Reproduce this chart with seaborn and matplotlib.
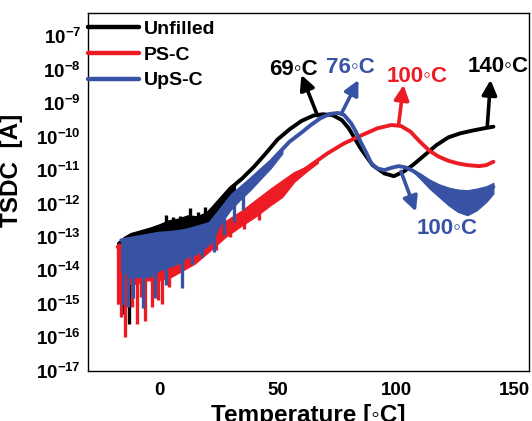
import numpy as np
import pandas as pd
import matplotlib
matplotlib.use("Agg")
import matplotlib.pyplot as plt
import matplotlib.ticker as mticker
import seaborn as sns

# ---------------- data (log10 of current in A) ----------------
black_T = [-17, -15, -10, -5, 0, 5, 10, 15, 20, 25, 30, 35, 40, 45, 50, 55, 60, 65, 69, 73, 77, 80,
           85, 90, 95, 99, 103, 107, 112, 117, 122, 127, 132, 137, 141]
black_log = [-13.2, -13.1, -12.95, -12.82, -12.72, -12.66, -12.62, -12.55, -12.35, -11.95, -11.55, -11.25,
             -10.9, -10.5, -10.08, -9.78, -9.53, -9.37, -9.33, -9.35, -9.5, -9.75, -10.35, -10.85, -11.1,
             -11.18, -11.05, -10.85, -10.55, -10.25, -10.02, -9.9, -9.82, -9.75, -9.7]
black_band_T = [-17, -15, -12, -8, -4, 0, 4, 8, 12, 16, 20, 24, 28, 32]
black_band_hi = [-13.2, -13.0, -12.88, -12.8, -12.72, -12.62, -12.5, -12.45, -12.35, -12.38, -12.25,
                 -12.0, -11.7, -11.45]
black_band_lo = [-14.5, -14.0, -13.8, -13.6, -13.4, -13.2, -13.1, -13.0, -12.9, -12.8, -12.6, -12.3,
                 -12.0, -11.7]
black_spike_T = [-15.8, -12.8, 3.0, 6.0, 9.0, 13.0, 16.5, 19.5]
black_spike_lo = [-15.3, -15.6, -12.9, -12.9, -12.8, -12.8, -12.7, -12.5]
black_spike_hi = [-13.4, -13.4, -12.35, -12.4, -12.38, -12.12, -12.25, -12.1]

red_T = [-17.5, -15, -10, -5, 0, 5, 10, 15, 20, 28, 35, 40.5, 47, 52, 57, 64, 71, 78, 85, 92, 98, 102,
         106, 110, 114, 118, 122, 126, 130, 135, 138, 141]
red_log = [-13.3, -13.25, -13.2, -13.15, -13.1, -13.05, -13.0, -12.9, -12.8, -12.65, -12.38, -12.15,
           -11.8, -11.55, -11.2, -10.85, -10.5, -10.2, -9.97, -9.75, -9.65, -9.68, -9.85, -10.15, -10.42,
           -10.6, -10.72, -10.8, -10.85, -10.88, -10.85, -10.75]
red_band_T = [-17.5, -15, -10, -5, 0, 5, 10, 15, 20, 28, 35, 40.5, 47, 52, 57, 62, 67]
red_band_hi = [-13.2, -13.2, -13.15, -13.1, -13.05, -13.0, -12.95, -12.85, -12.72, -12.52, -12.2, -11.9,
               -11.55, -11.3, -11.05, -10.9, -10.72]
red_band_lo = [-15.0, -14.4, -14.4, -14.3, -14.3, -14.2, -14.0, -13.8, -13.5, -13.0, -12.65, -12.4,
               -12.05, -11.8, -11.35, -11.05, -10.78]
red_spike_T = [-17.3, -16.2, -14.2, -11.5, -9.4, -7.5, -5.8, -3.2, -0.5, 1.2, 4.0, 6.0, 9.0,
               24.0, 30.0, 36.0, 42.0]
red_spike_lo = [-15.0, -15.4, -16.0, -15.1, -15.6, -14.8, -15.5, -15.1, -14.9, -15.0, -14.5, -14.0, -13.9,
                -13.4, -13.0, -12.75, -12.5]
red_spike_hi = [-13.3] * 13 + [-12.8, -12.5, -12.2, -12.0]

blue_T = [-16, -12, -8, -4, 0, 4, 8, 12, 16, 21.5, 26, 31, 38.4, 43, 47, 51, 55, 60, 64, 68, 72, 75.5,
          78, 81, 83, 85.3, 87.5, 89.5, 92, 95, 98, 101, 104, 107, 110, 114, 118, 122, 126, 130, 134,
          138, 141]
blue_log = [-13.1, -13.05, -13.0, -12.95, -12.9, -12.88, -12.85, -12.8, -12.72, -12.6, -12.2, -11.75,
            -11.3, -11.0, -10.75, -10.45, -10.15, -9.88, -9.65, -9.45, -9.32, -9.29, -9.35, -9.6, -9.85,
            -10.2, -10.5, -10.8, -10.95, -11.0, -10.93, -10.88, -10.92, -11.02, -11.15, -11.35, -11.5,
            -11.6, -11.7, -11.8, -11.75, -11.65, -11.5]
blue_band_T = [-16, -12, -8, -4, 0, 4, 8, 12, 16, 21.5, 26, 30, 34, 38.4, 43, 47, 52]
blue_band_hi = [-13.1, -13.05, -13.0, -12.95, -12.9, -12.88, -12.85, -12.8, -12.72, -12.58, -12.2, -11.8,
                -11.55, -11.3, -11.0, -10.72, -10.4]
blue_band_lo = [-14.0, -14.2, -14.2, -14.2, -14.0, -13.9, -13.8, -13.6, -13.5, -13.2, -12.6, -12.2,
                -11.9, -11.6, -11.25, -10.95, -10.5]
blue_tail_T = [107, 110, 114, 118, 122, 126, 130, 134, 138, 141]
blue_tail_hi = [-11.0, -11.1, -11.28, -11.42, -11.52, -11.58, -11.6, -11.55, -11.48, -11.38]
blue_tail_lo = [-11.05, -11.25, -11.55, -11.8, -12.05, -12.25, -12.35, -12.2, -11.95, -11.7]
blue_spike_T = [-15.3, -13.1, -11.0, -6.8, -1.8, 3.1, 9.7, 13.7, 18.0, 23.0, 27.5, 31.5, 35.5]
blue_spike_lo = [-15.03, -15.08, -14.83, -15.13, -14.82, -14.43, -14.53, -13.8, -13.6, -13.45, -12.95,
                 -12.55, -12.2]
blue_spike_hi = [-13.3] * 9 + [-12.6, -12.2, -11.9, -11.6]

series_names = ["Unfilled", "PS-C", "UpS-C"]
colors = ["#000000", "#ED1C24", "#3953A4"]

# annotations: text, colour index, text position, arrow tail, arrow head (T, log10 I)
ann_text = ["69\u25e6C", "76\u25e6C", "100\u25e6C", "140\u25e6C", "100\u25e6C"]
ann_color = [0, 2, 1, 0, 2]
ann_text_xy = [(56.7, -8.0), (80.6, -7.94), (109.0, -8.21), (143.0, -7.91), (121.5, -12.75)]
ann_tail = [(66.8, -9.37), (77.0, -9.29), (101.0, -9.64), (138.4, -9.7), (102.0, -11.04)]
ann_head = [(60.0, -8.15), (84.1, -8.3), (103.1, -8.45), (139.8, -8.3), (108.3, -12.24)]

yticks_exp = list(range(-17, -6))
xticks = [0, 50, 100, 150]

# ---------------- style ----------------
sns.set_style("white")
plt.rcParams["font.family"] = ["Liberation Sans", "DejaVu Sans"]
plt.rcParams["font.weight"] = "bold"
plt.rcParams["mathtext.fontset"] = "custom"
plt.rcParams["mathtext.rm"] = "Liberation Sans:bold"
plt.rcParams["mathtext.bf"] = "Liberation Sans:bold"
plt.rcParams["mathtext.it"] = "Liberation Sans:bold:italic"
plt.rcParams["axes.unicode_minus"] = False
for k in ["text.color", "axes.labelcolor", "xtick.color", "ytick.color", "axes.edgecolor"]:
    plt.rcParams[k] = "black"

fig = plt.figure(figsize=(5.32, 4.21), dpi=100)
ax = fig.add_axes([88 / 532, 1 - 370.7 / 421, (529 - 88) / 532, (370.7 - 13) / 421])
ax.set_yscale("log")

def P(v):
    return 10.0 ** np.asarray(v, dtype=float)

lw = 2.8
groups = [
    (black_T, black_log, black_band_T, black_band_hi, black_band_lo, black_spike_T, black_spike_hi, black_spike_lo),
    (red_T, red_log, red_band_T, red_band_hi, red_band_lo, red_spike_T, red_spike_hi, red_spike_lo),
    (blue_T, blue_log, blue_band_T, blue_band_hi, blue_band_lo, blue_spike_T, blue_spike_hi, blue_spike_lo),
]
for i, (T, L, bT, bh, bl, sT, sh, sl) in enumerate(groups):
    c = colors[i]
    z = 2 + i
    ax.vlines(sT, P(sl), P(sh), colors=c, lw=2.4, zorder=z)
    ax.fill_between(bT, P(bl), P(bh), color=c, lw=0.8, edgecolor=c, zorder=z)
    if i == 2:
        ax.fill_between(blue_tail_T, P(blue_tail_lo), P(blue_tail_hi), color=c, lw=0.8, edgecolor=c, zorder=z)
    df = pd.DataFrame({"T": T, "I": P(L)})
    sns.lineplot(data=df, x="T", y="I", color=c, lw=lw, label=series_names[i], ax=ax,
                 sort=False, estimator=None, zorder=z)

for t, ci, txy, tail, head in zip(ann_text, ann_color, ann_text_xy, ann_tail, ann_head):
    c = colors[ci]
    ax.annotate("", xy=(head[0], 10 ** head[1]), xytext=(tail[0], 10 ** tail[1]),
                arrowprops=dict(arrowstyle="-|>", color=c, lw=2.6, mutation_scale=22,
                                shrinkA=0, shrinkB=0), zorder=6)
    ax.text(txy[0], 10 ** txy[1], t, color=c, fontsize=16, fontweight="bold",
            ha="center", va="center", zorder=7)

ax.set_xlim(-30, 156)
ax.set_ylim(1e-17, 10 ** -6.3)
ax.set_xticks(xticks)
ax.set_xticklabels([str(v) for v in xticks], fontsize=13.5, fontweight="bold")
ax.set_yticks([10.0 ** e for e in yticks_exp])
ax.set_yticklabels([r"$10^{%d}$" % e for e in yticks_exp], fontsize=13.5)
ax.yaxis.set_minor_locator(mticker.LogLocator(base=10, subs=np.arange(2, 10), numticks=30))
ax.yaxis.set_minor_formatter(mticker.NullFormatter())
ax.tick_params(which="both", direction="in", top=False, right=False, width=1.0, color="black",
               labelcolor="black")
ax.tick_params(which="major", length=7)
ax.tick_params(which="minor", length=4)
ax.tick_params(axis="x", pad=8)
ax.tick_params(axis="y", pad=5)
for s in ax.spines.values():
    s.set_linewidth(1.0)
    s.set_color("black")

ax.set_xlabel("Temperature [\u25e6C]", fontsize=17.5, fontweight="bold", labelpad=4, color="black")
ax.set_ylabel("TSDC  [A]", fontsize=17.5, fontweight="bold", color="black")
ax.yaxis.set_label_coords(-0.147, 0.56)

leg = ax.legend(loc="upper left", bbox_to_anchor=(0.0, 0.98), frameon=False, borderpad=0,
                borderaxespad=0, handlelength=2.6, handletextpad=0.25, labelspacing=0.42,
                prop=dict(family=["Liberation Sans", "DejaVu Sans"], weight="bold", size=14))
for h in leg.get_lines():
    h.set_linewidth(3.2)
for t in leg.get_texts():
    t.set_color("black")

fig.savefig("out.png", dpi=100)
